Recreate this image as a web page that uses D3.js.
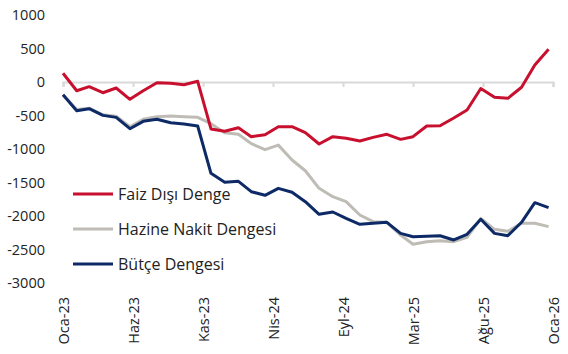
<!DOCTYPE html>
<meta charset="utf-8">
<script src="https://d3js.org/d3.v7.min.js"></script>
<style>
  body { margin: 0; background: #fff; }
  text { font-family: 'Open Sans', sans-serif; fill: #222; }
</style>
<body>
<div id="chart"></div>
<script>

// monthly data, Oca-23 .. Oca-26
var months = ["2023-01","2023-02","2023-03","2023-04","2023-05","2023-06","2023-07","2023-08","2023-09","2023-10","2023-11","2023-12",
              "2024-01","2024-02","2024-03","2024-04","2024-05","2024-06","2024-07","2024-08","2024-09","2024-10","2024-11","2024-12",
              "2025-01","2025-02","2025-03","2025-04","2025-05","2025-06","2025-07","2025-08","2025-09","2025-10","2025-11","2025-12",
              "2026-01"];

var faizDisi = [130,-130,-70,-160,-90,-258,-130,-10,-20,-40,10,-701,
                -736,-682,-816,-786,-667,-667,-756,-925,-816,-840,-881,-826,
                -781,-856,-816,-657,-652,-537,-418,-97,-229,-244,-79,254,
                488];
var hazineNakit = [-190,-410,-390,-490,-510,-667,-557,-517,-507,-517,-527,-622,
                   -756,-781,-920,-1010,-942,-1164,-1324,-1587,-1712,-1786,-1985,-2085,
                   -2094,-2284,-2422,-2383,-2369,-2383,-2318,-2035,-2199,-2229,-2109,-2109,
                   -2159];
var butce = [-190,-428,-398,-498,-528,-697,-587,-557,-607,-627,-657,-1363,
             -1497,-1482,-1637,-1691,-1587,-1646,-1786,-1975,-1940,-2035,-2124,-2109,
             -2094,-2259,-2309,-2303,-2294,-2358,-2273,-2049,-2259,-2294,-2094,-1801,
             -1876];

// date axis ticks (every 158 days, as the original axis)
var tickDates = ["2023-01-01","2023-06-08","2023-11-13","2024-04-19","2024-09-24","2025-03-01","2025-08-06","2026-01-11"];
var tickLabels = ["Oca-23","Haz-23","Kas-23","Nis-24","Eyl-24","Mar-25","Ağu-25","Oca-26"];
var yTicks = [1000,500,0,-500,-1000,-1500,-2000,-2500,-3000];

var series = [
  {name: "Hazine Nakit Dengesi", values: hazineNakit, color: "#bfbcb6"},
  {name: "Faiz Dışı Denge", values: faizDisi, color: "#c8102e"},
  {name: "Bütçe Dengesi", values: butce, color: "#0e2a66"}
];
var legendOrder = ["Faiz Dışı Denge", "Hazine Nakit Dengesi", "Bütçe Dengesi"];

var width = 568, height = 354;

var svg = d3.select("#chart")
  .append("svg")
    .attr("width", width)
    .attr("height", height);

var parseMonth = d3.utcParse("%Y-%m");
var parseDay = d3.utcParse("%Y-%m-%d");

var x = d3.scaleUtc()
  .domain([parseDay(tickDates[0]), parseDay(tickDates[tickDates.length - 1])])
  .range([63, 553]);

var y = d3.scaleLinear()
  .domain([-3000, 1000])
  .range([283, 15]);

// y labels, no axis line
var yAxis = svg.append("g")
  .attr("transform", "translate(45,0)")
  .call(d3.axisLeft(y).tickValues(yTicks).tickSize(0).tickPadding(0)
        .tickFormat(function(d) { return String(d); }));
yAxis.select(".domain").remove();
yAxis.selectAll("text")
  .style("font-size", "14.5px")
  .attr("fill", "#222");

// zero line with tick marks
var zeroAxis = svg.append("g")
  .attr("transform", "translate(0," + y(0) + ")")
  .call(d3.axisBottom(x).tickValues(tickDates.map(parseDay)).tickSize(5).tickFormat(""));
zeroAxis.select(".domain").attr("stroke", "#d9d9d9").attr("stroke-width", 2.2);
zeroAxis.selectAll(".tick line").attr("stroke", "#d9d9d9").attr("stroke-width", 2);

// rotated month labels at the bottom
var xLabels = svg.append("g")
  .attr("transform", "translate(0,297)")
  .call(d3.axisBottom(x).tickValues(tickDates.map(parseDay)).tickSize(0)
        .tickFormat(function(d, i) { return tickLabels[i]; }));
xLabels.select(".domain").remove();
xLabels.selectAll("text")
  .style("font-size", "14.5px")
  .attr("fill", "#222")
  .attr("transform", "rotate(-90)")
  .attr("text-anchor", "end")
  .attr("x", 0)
  .attr("y", 0)
  .attr("dy", "0.35em");

var line = d3.line()
  .x(function(d, i) { return x(parseMonth(months[i])); })
  .y(function(d) { return y(d); });

svg.selectAll(".series")
  .data(series)
  .enter()
  .append("path")
    .attr("class", "series")
    .attr("fill", "none")
    .attr("stroke", function(d) { return d.color; })
    .attr("stroke-width", 3)
    .attr("stroke-linejoin", "round")
    .attr("d", function(d) { return line(d.values); });

// legend
var legend = svg.selectAll(".legend")
  .data(legendOrder.map(function(n) { return series.find(function(s) { return s.name === n; }); }))
  .enter()
  .append("g")
    .attr("class", "legend")
    .attr("transform", function(d, i) { return "translate(73," + (194 + i * 35) + ")"; });

legend.append("line")
  .attr("x1", 0).attr("x2", 40)
  .attr("stroke", function(d) { return d.color; })
  .attr("stroke-width", 3);

legend.append("text")
  .attr("x", 45)
  .attr("dy", "0.35em")
  .style("font-size", "16px")
  .text(function(d) { return d.name; });

</script>
</body>
